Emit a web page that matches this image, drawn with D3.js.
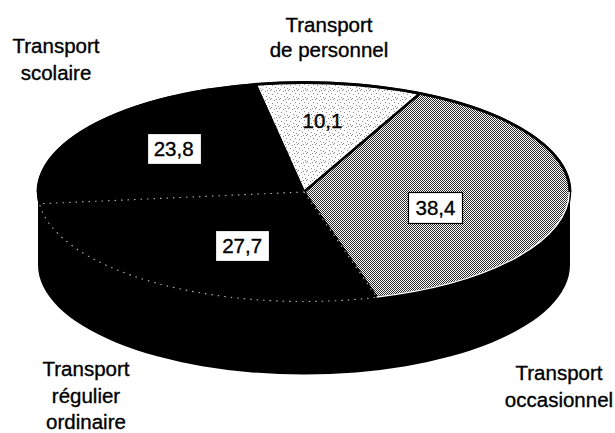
<!DOCTYPE html>
<html>
<head>
<meta charset="utf-8">
<script src="https://cdn.jsdelivr.net/npm/d3@7/dist/d3.min.js"></script>
<style>
  html, body { margin: 0; padding: 0; background: #fff; }
  svg { display: block; }
  text { font-family: "Liberation Sans", Arial, Helvetica, sans-serif; fill: #000; stroke: #000; stroke-width: 0.35px; }
</style>
</head>
<body>
<svg id="chart" width="615" height="433"></svg>
<script>
// ---- data ----
const categories = ["Transport de personnel", "Transport occasionnel", "Transport régulier ordinaire", "Transport scolaire"];
const values = [10.1, 38.4, 27.7, 23.8];
const valueLabels = ["10,1", "38,4", "27,7", "23,8"];
const categoryLines = [["Transport", "de personnel"], ["Transport", "occasionnel"], ["Transport", "régulier", "ordinaire"], ["Transport", "scolaire"]];

// ---- layout / style ----
const W = 615, H = 433;
const cx = 304, cy = 192, rx = 266, ry = 109.5, depth = 73;
const startDeg = -10.5;
const fills = ["url(#stipple)", "url(#dither)", "#000", "#000"];
const labelRadius = [0.657, 0.514, 0.541, 0.631];
const labelAngleShift = [-1.6, 11, -8.5, 2.4];
const labelBoxed = [false, true, true, true];
const catPos = [
  {x: 329, y: 32, lh: 24.5},
  {x: 559, y: 380, lh: 27},
  {x: 86, y: 376, lh: 26.5},
  {x: 56, y: 53, lh: 27}
];

const svg = d3.select("#chart");
const defs = svg.append("defs");

// stipple pattern (light dotted)
const st = defs.append("pattern").attr("id", "stipple").attr("patternUnits", "userSpaceOnUse")
  .attr("width", 9).attr("height", 9);
st.append("rect").attr("width", 9).attr("height", 9).attr("fill", "#fdfdfd");
[[0,0],[4,1],[7,3],[2,4],[5,6],[8,7],[1,8],[6,0]].forEach(([x,y]) =>
  st.append("rect").attr("x", x).attr("y", y).attr("width", 1).attr("height", 1).attr("fill", "#8c8c8c"));

// dither pattern (medium gray)
const dt = defs.append("pattern").attr("id", "dither").attr("patternUnits", "userSpaceOnUse")
  .attr("width", 2).attr("height", 2);
dt.append("rect").attr("width", 2).attr("height", 2).attr("fill", "#ffffff");
dt.append("rect").attr("x", 0).attr("y", 0).attr("width", 1).attr("height", 1).attr("fill", "#2e2e2e");
dt.append("rect").attr("x", 1).attr("y", 1).attr("width", 1).attr("height", 1).attr("fill", "#2e2e2e");

const toRad = d => d * Math.PI / 180;
const pie = d3.pie().sort(null).value(d => d)
  .startAngle(toRad(startDeg)).endAngle(toRad(startDeg + 360));
const arcs = pie(values);

function pt(a, f = 1) {
  return [cx + rx * f * Math.sin(a), cy - ry * f * Math.cos(a)];
}
function slicePath(d) {
  const p0 = pt(d.startAngle), p1 = pt(d.endAngle);
  const large = (d.endAngle - d.startAngle) > Math.PI ? 1 : 0;
  return `M${cx},${cy}L${p0[0]},${p0[1]}A${rx},${ry} 0 ${large} 1 ${p1[0]},${p1[1]}Z`;
}

// ---- side (depth) ----
svg.append("ellipse").attr("cx", cx).attr("cy", cy + depth).attr("rx", rx).attr("ry", ry).attr("fill", "#000");
svg.append("rect").attr("x", cx - rx).attr("y", cy).attr("width", 2 * rx).attr("height", depth).attr("fill", "#000");

// ---- top slices ----
const g = svg.append("g");
g.selectAll("path.slice").data(arcs).join("path")
  .attr("class", "slice")
  .attr("d", slicePath)
  .attr("fill", (d, i) => fills[i])
  .attr("stroke", "#000")
  .attr("stroke-width", 2.4)
  .attr("stroke-linejoin", "round");

// faint dotted outline of the dark "régulier" slice
g.append("path").attr("d", slicePath(arcs[2]))
  .attr("fill", "none").attr("stroke", "#fff").attr("stroke-opacity", 0.7)
  .attr("stroke-width", 1.1).attr("stroke-dasharray", "1.5,5");

// white rim of the grey slice against the dark side
{
  const d = arcs[1];
  const a0 = Math.max(d.startAngle, Math.PI / 2), a1 = d.endAngle;
  const p0 = pt(a0, 0.997), p1 = pt(a1, 0.997);
  g.append("path").attr("d", `M${p0[0]},${p0[1]}A${rx*0.997},${ry*0.997} 0 0 1 ${p1[0]},${p1[1]}`)
    .attr("fill", "none").attr("stroke", "#fff").attr("stroke-width", 1.4);
}

// top outline (upper half) heavier
{
  const pl = pt(-Math.PI / 2), pr = pt(Math.PI / 2);
  g.append("path").attr("d", `M${pl[0]},${pl[1]}A${rx},${ry} 0 0 1 ${pr[0]},${pr[1]}`)
    .attr("fill", "none").attr("stroke", "#000").attr("stroke-width", 2.8);
}

// ---- value labels ----
const lab = svg.append("g");
arcs.forEach((d, i) => {
  const mid = (d.startAngle + d.endAngle) / 2 + toRad(labelAngleShift[i]);
  const [x, y] = pt(mid, labelRadius[i]);
  const grp = lab.append("g");
  const t = grp.append("text").attr("x", x).attr("y", y + 7.5)
    .attr("text-anchor", "middle").attr("font-size", 20.5).text(valueLabels[i]);
  if (labelBoxed[i]) {
    const bb = t.node().getBBox();
    grp.insert("rect", "text")
      .attr("x", Math.round(x - bb.width / 2 - 7) + 0.5)
      .attr("y", Math.round(y - 15.5) + 0.5)
      .attr("width", Math.round(bb.width + 14))
      .attr("height", 31)
      .attr("fill", "#fff").attr("stroke", "#000").attr("stroke-width", 1.2);
  }
});

// ---- category labels ----
const cat = svg.append("g");
categoryLines.forEach((lines, i) => {
  const t = cat.append("text").attr("text-anchor", "middle").attr("font-size", 20.5);
  lines.forEach((ln, j) => {
    t.append("tspan").attr("x", catPos[i].x).attr("y", catPos[i].y + j * catPos[i].lh).text(ln);
  });
});
</script>
</body>
</html>
